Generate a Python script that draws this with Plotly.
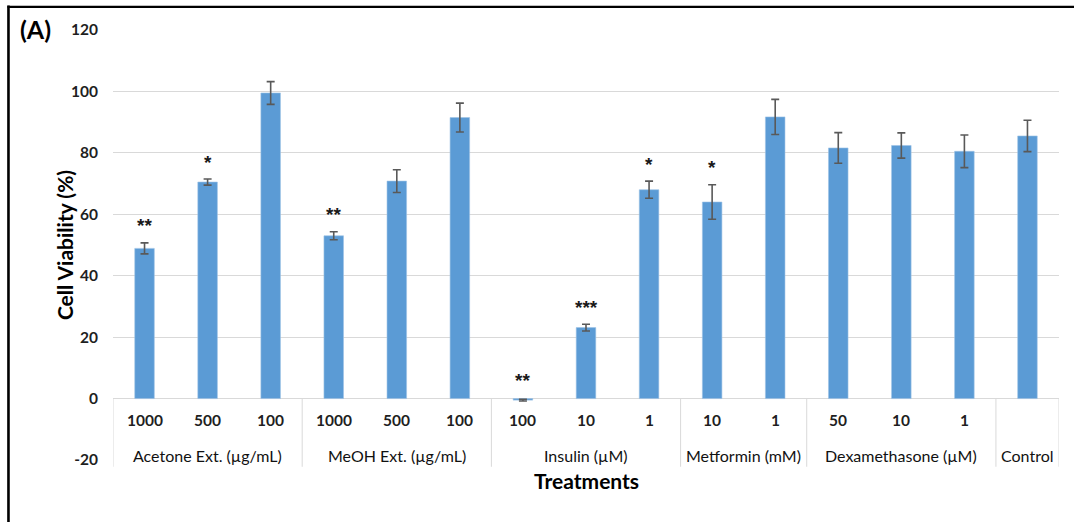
import plotly.graph_objects as go

# Cell viability per treatment (mean ± error) and significance marks
dose_labels = ["1000", "500", "100", "1000", "500", "100", "100", "10", "1",
               "10", "1", "50", "10", "1", ""]
group_names = ["Acetone Ext. (µg/mL)", "MeOH Ext. (µg/mL)", "Insulin (µM)",
               "Metformin (mM)", "Dexamethasone (µM)", "Control"]
group_sizes = [3, 3, 3, 2, 3, 1]
viability = [48.9, 70.5, 99.5, 53.0, 70.8, 91.5, -0.5, 23.1, 68.0,
             64.0, 91.7, 81.6, 82.4, 80.5, 85.5]
viability_err = [1.8, 1.0, 3.7, 1.3, 3.7, 4.7, 0.3, 1.1, 2.8,
                 5.6, 5.7, 5.0, 4.1, 5.3, 5.1]
significance = ["**", "*", "", "**", "", "", "**", "***", "*",
                "*", "", "", "", "", ""]
y_ticks = [-20, 0, 20, 40, 60, 80, 100, 120]
y_tick_text = ["-20", "0", "20", "40", "60", "80", "100", "120"]

FONT = "Lato"
TEXT = "#1f1f1f"
GRID = "#d9d9d9"
YMIN, YMAX = -20, 120

x = list(range(len(viability)))

fig = go.Figure()
fig.add_trace(go.Bar(
    x=x, y=viability,
    marker=dict(color="#5b9bd5", line=dict(color="#9dc3e6", width=0.6)),
    error_y=dict(type="data", array=viability_err, visible=True,
                 color="#595959", thickness=1.6, width=4),
    hoverinfo="skip",
))


def ypaper(v):
    return (v - YMIN) / (YMAX - YMIN)


shapes = []
annotations = []

# Group separators of the two-level category axis
edges = [-0.5]
for n in group_sizes:
    edges.append(edges[-1] + n)
for e in edges:
    shapes.append(dict(type="line", xref="x", yref="paper",
                       x0=e, x1=e, y0=ypaper(0), y1=ypaper(-22.2),
                       line=dict(color=GRID, width=1)))

# Dose labels and group labels
for i, lab in enumerate(dose_labels):
    if lab:
        annotations.append(dict(x=i, y=-7.1, xref="x", yref="y", text=lab,
                                showarrow=False,
                                font=dict(family=FONT, size=15.5, color=TEXT,
                                          weight="bold")))
for name, a, b in zip(group_names, edges[:-1], edges[1:]):
    annotations.append(dict(x=(a + b) / 2, y=-18.4, xref="x", yref="y",
                            text=name, showarrow=False,
                            font=dict(family=FONT, size=16, color="#111111")))

# Significance asterisks above error bars
for i, s in enumerate(significance):
    if s:
        top = max(viability[i], 0) + viability_err[i]
        annotations.append(dict(x=i, y=top + 5.5, xref="x", yref="y",
                                text=s, showarrow=False,
                                font=dict(family="Liberation Sans", size=19,
                                          color="#1a1a1a", weight="bold")))

# Panel label and axis titles
annotations.append(dict(x=-0.1, y=1.002, xref="paper", yref="paper",
                        text="(A)", showarrow=False, xanchor="left",
                        yanchor="middle",
                        font=dict(family=FONT, size=25, color="#000000",
                                  weight="bold")))
annotations.append(dict(x=-0.067, y=0.5, xref="paper", yref="paper",
                        text="Cell Viability (%)", showarrow=False,
                        textangle=-90,
                        font=dict(family=FONT, size=21, color="#000000",
                                  weight="bold")))
annotations.append(dict(x=0.5, y=-0.047, xref="paper", yref="paper",
                        text="Treatments", showarrow=False, yanchor="middle",
                        font=dict(family=FONT, size=21, color="#000000",
                                  weight="bold")))

# Outer frame (top and left edges)
shapes.append(dict(type="line", xref="paper", yref="paper",
                   x0=-0.1115, x1=1.05, y0=1.054, y1=1.054,
                   line=dict(color="#000000", width=2.2)))
shapes.append(dict(type="line", xref="paper", yref="paper",
                   x0=-0.1105, x1=-0.1105, y0=1.057, y1=-0.2,
                   line=dict(color="#000000", width=2.6)))

fig.update_layout(
    width=1074, height=522,
    margin=dict(l=113, r=15, t=30, b=62),
    paper_bgcolor="white", plot_bgcolor="white",
    showlegend=False,
    bargap=0.69,
    shapes=shapes,
    annotations=annotations,
    xaxis=dict(range=[-0.5, len(viability) - 0.5], showticklabels=False,
               showgrid=False, zeroline=False, showline=False, ticks=""),
    yaxis=dict(range=[YMIN, YMAX], tickvals=y_ticks, ticktext=y_tick_text,
               showgrid=True,
               gridcolor=GRID, gridwidth=1, zeroline=False, showline=False,
               ticks="", ticklabelstandoff=14,
               tickfont=dict(family=FONT, size=15.5, color=TEXT,
                             weight="bold")),
)

fig.write_html("out.html")
